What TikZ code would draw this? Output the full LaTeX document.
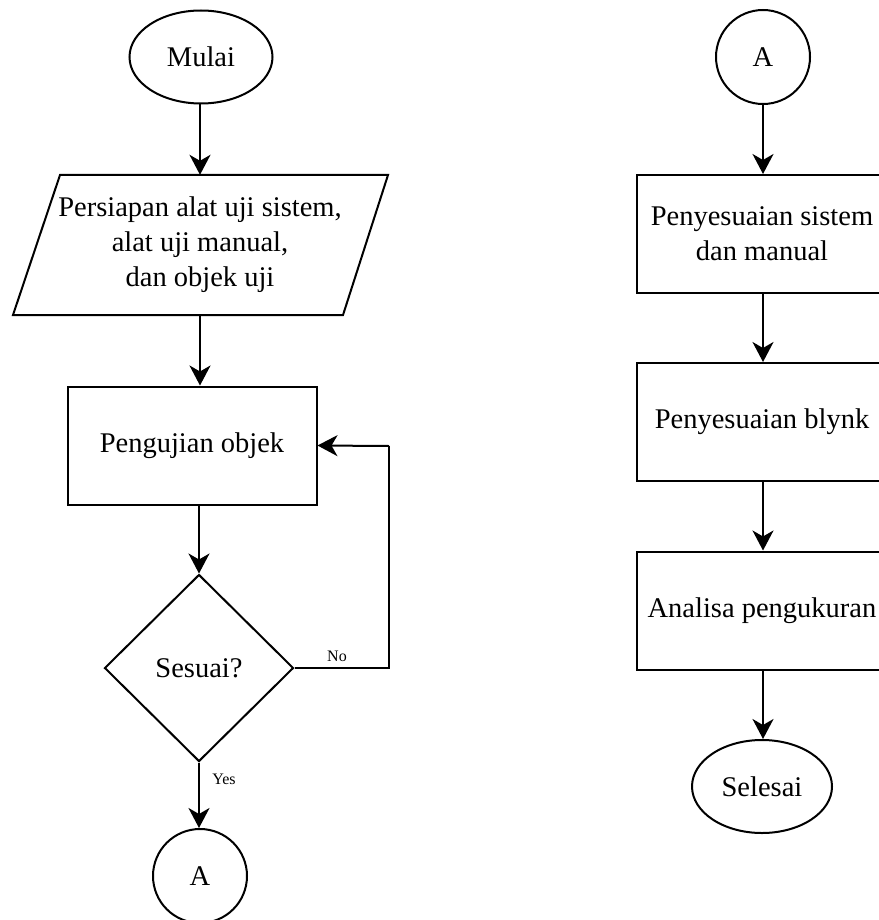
\documentclass[tikz,border=0pt]{standalone}
\usepackage{fontspec}
\setmainfont{Liberation Serif}
\usetikzlibrary{shapes.geometric,arrows.meta}
\begin{document}
\begin{tikzpicture}[x=1pt,y=-1pt,
  base/.style={draw, line width=2pt, font=\fontsize{28.5}{35}\selectfont, align=center, inner sep=0pt},
  term/.style={base, ellipse, minimum width=143pt, minimum height=93pt},
  conn/.style={base, circle, minimum size=94pt},
  proc/.style={base, rectangle, minimum width=249pt, minimum height=118pt},
  dec/.style={base, diamond, minimum width=189pt, minimum height=187pt},
  arr/.style={line width=2pt, -{Stealth[length=20pt,width=21pt,inset=6pt]}},
  lab/.style={font=\fontsize{16}{19}\selectfont, inner sep=0pt}]
\useasboundingbox (0,0) rectangle (878,920);
% left column
\node[term] (start) at (201,57) {Mulai};
\draw[line width=2pt] (60,175) -- (388,175) -- (343,315) -- (13,315) -- cycle;
\node[font=\fontsize{28.5}{35}\selectfont, align=center, inner sep=0pt, minimum height=140pt] (prep) at (200,245) {Persiapan alat uji sistem,\\alat uji manual,\\dan objek uji};
\node[proc] (test) at (192,445.5) {Pengujian objek};
\node[dec] (dec) at (199,668) {Sesuai?};
\node[conn] (a1) at (200,876) {A};
\coordinate (nr) at (389,668);
\coordinate (nt) at (389,446);
% right column
\node[conn] (a2) at (763,57) {A};
\node[proc, minimum width=250pt] (adj) at (762,234) {Penyesuaian sistem\\dan manual};
\node[proc, minimum width=250pt] (blynk) at (762,422) {Penyesuaian blynk};
\node[proc, minimum width=250pt] (anal) at (762,610.5) {Analisa pengukuran};
\node[term, minimum width=140pt] (end) at (762,786.5) {Selesai};
% connectors
\draw[arr] (start.south -| 200,0) -- (prep.north);
\draw[arr] (prep.south) -- (prep.south |- test.north);
\draw[arr] (dec.north |- test.south) -- (dec.north);
\draw[line width=2pt] (dec.east) -- (nr) -- (nt);
\draw[arr] (nt) -- (test.east);
\node[lab] (no) at (337,656) {No};
\draw[arr] (dec.south) -- (dec.south |- a1.north);
\node[lab] (yes) at (224,779) {Yes};
\draw[arr] (a2.south) -- (adj.north -| a2.south);
\draw[arr] (adj.south -| a2.south) -- (blynk.north -| a2.south);
\draw[arr] (blynk.south -| a2.south) -- (anal.north -| a2.south);
\draw[arr] (anal.south -| a2.south) -- (end.north -| a2.south);
\end{tikzpicture}
\end{document}
